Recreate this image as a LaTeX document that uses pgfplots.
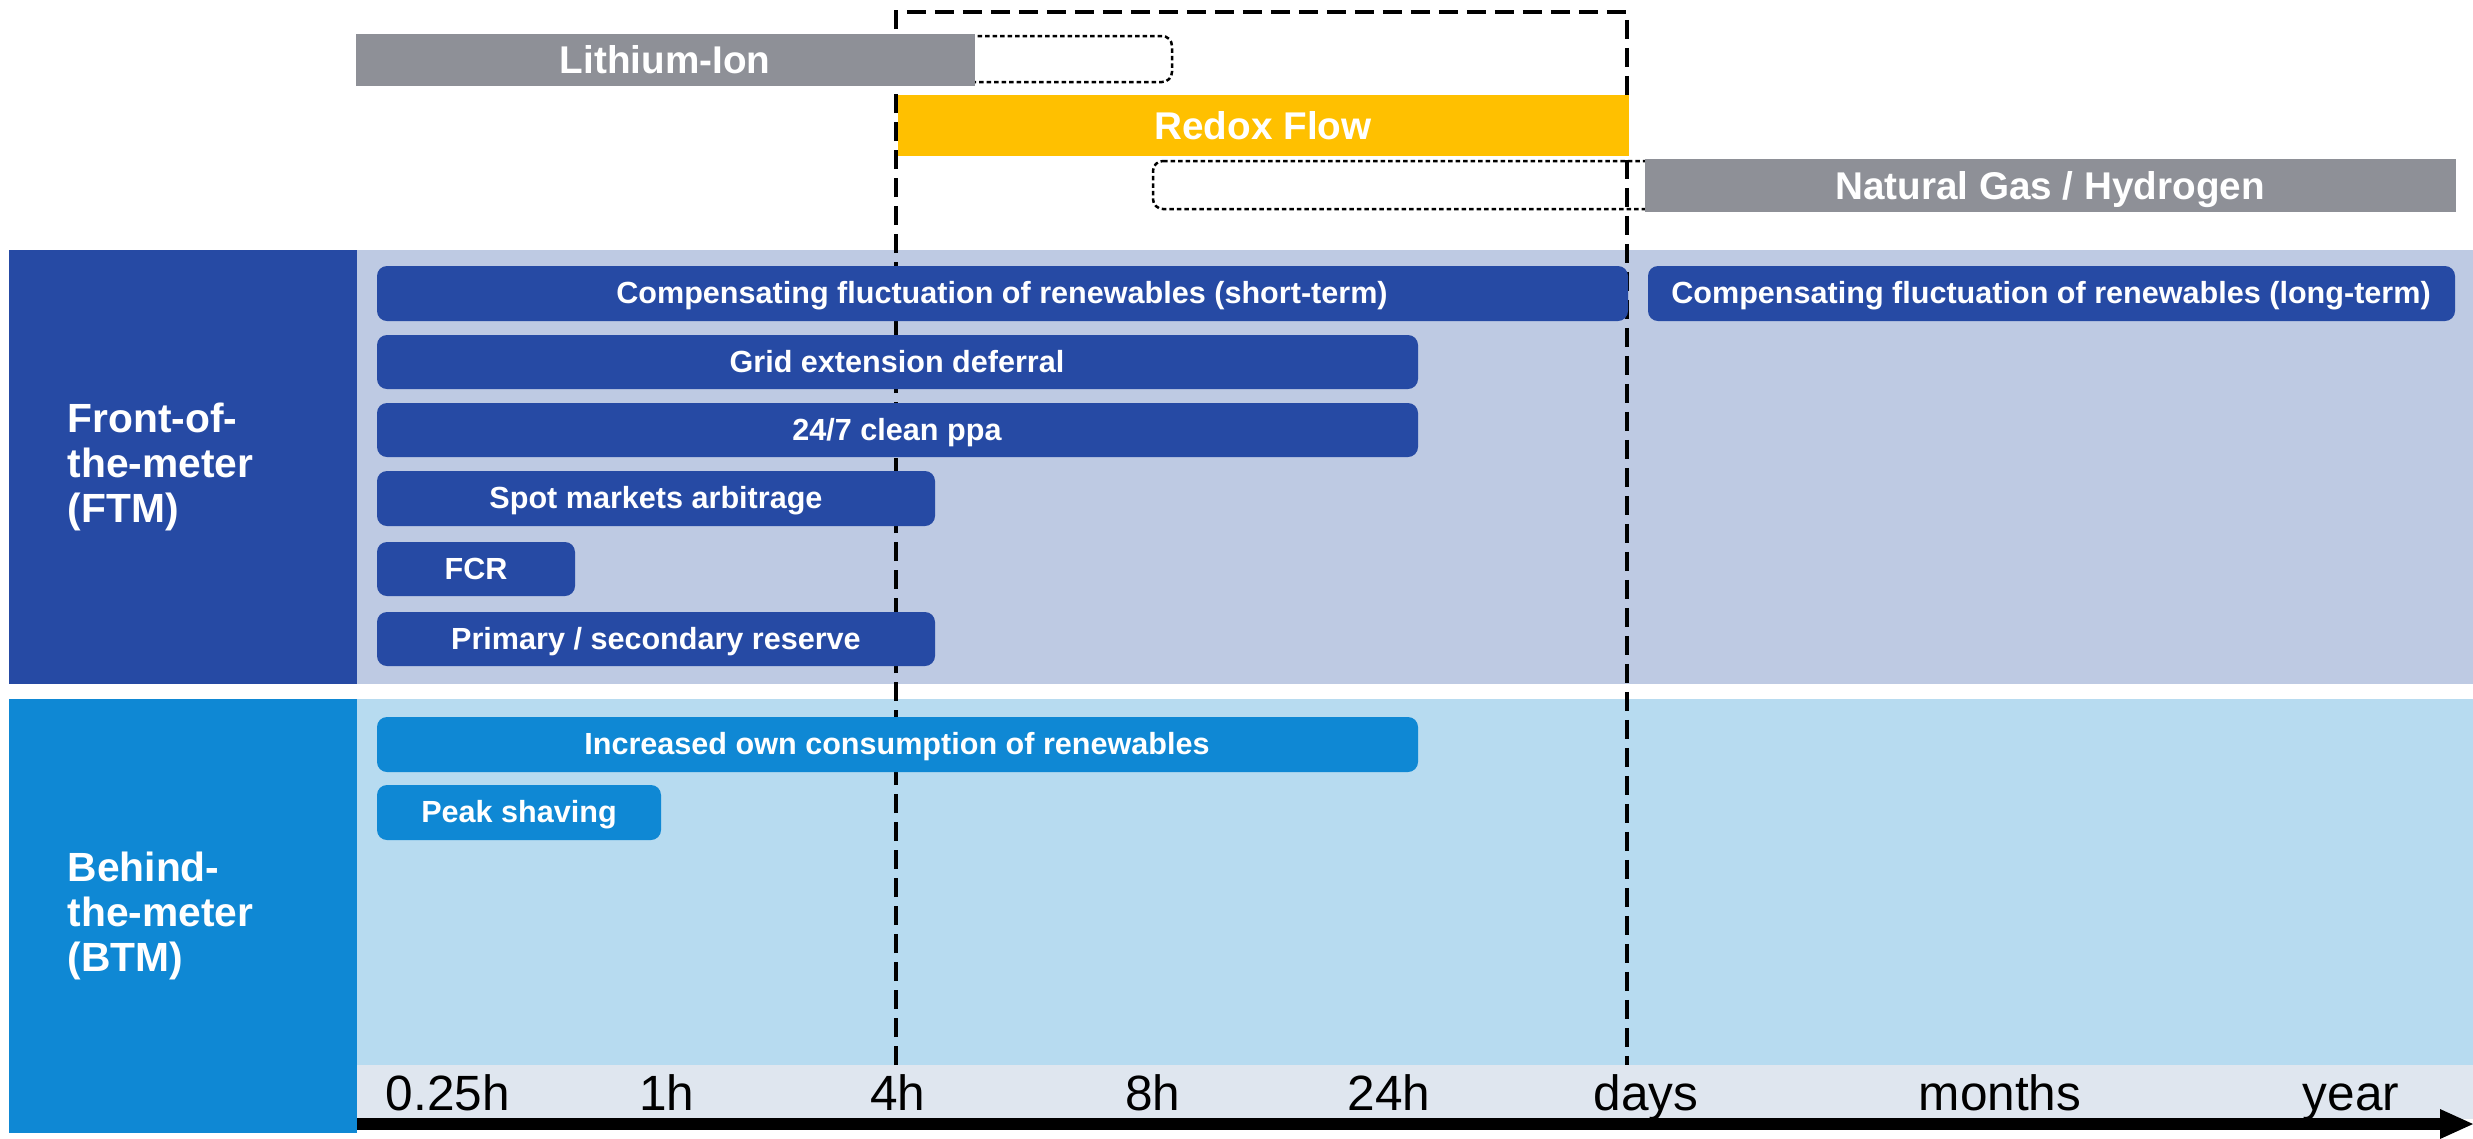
\documentclass[border=0pt]{standalone}
\usepackage{pgfplots}
\pgfplotsset{compat=1.18}
\usepackage{fontspec}
\setmainfont{Liberation Sans}
\usetikzlibrary{arrows.meta}

\definecolor{ftmdark}{HTML}{264AA4}
\definecolor{ftmlight}{HTML}{BECAE3}
\definecolor{btmdark}{HTML}{0F88D4}
\definecolor{btmlight}{HTML}{B7DBF0}
\definecolor{strip}{HTML}{DFE6EF}
\definecolor{techgray}{HTML}{8E9097}
\definecolor{redox}{HTML}{FFC000}

\begin{document}
\begin{tikzpicture}[
  lbl/.style={font=\bfseries\fontsize{8.7}{10}\selectfont, text=white, inner sep=0pt, text height=6.2pt, text depth=0pt},
  big/.style={font=\bfseries\fontsize{11}{13}\selectfont, text=white, inner sep=0pt, text height=7.9pt, text depth=0pt},
  cat/.style={font=\bfseries\fontsize{11.6}{12.9}\selectfont, text=white, inner sep=0pt, align=left, anchor=west},
  tck/.style={font=\fontsize{14.1}{16}\selectfont, inner sep=0pt, text height=10.1pt, text depth=0pt},
]
\begin{axis}[
  x=0.1mm, y=0.1mm,
  xmin=0, xmax=2473, ymin=0, ymax=1138,
  y dir=reverse, hide axis, clip=false,
  panel/.style={fill=#1, draw=none},
  bar/.style={fill=#1, draw=none, rounded corners=1mm},
  dotbox/.style={draw=black, line width=0.25mm, dash pattern=on 0.45mm off 0.3mm, rounded corners=1mm},
]
% page frame
\addplot[draw=none] coordinates {(0,0) (2473,1138)};
\coordinate (ll) at (0,1138);
\coordinate (ur) at (2473,0);

% panels
\addplot[panel=ftmdark]  coordinates {(9,250) (357,250) (357,684) (9,684)} -- cycle;
\addplot[panel=ftmlight] coordinates {(357,250) (2473,250) (2473,684) (357,684)} -- cycle;
\addplot[panel=btmdark]  coordinates {(9,699) (357,699) (357,1133) (9,1133)} -- cycle;
\addplot[panel=btmlight] coordinates {(357,699) (2473,699) (2473,1065) (357,1065)} -- cycle;
\addplot[panel=strip]    coordinates {(357,1065) (2473,1065) (2473,1119) (357,1119)} -- cycle;

% time arrow
\addplot[black, line width=1.25mm, -{Triangle[length=3.3mm, width=3.0mm, line width=0pt]}] coordinates {(357,1124) (2473,1124)};

% redox flow window
\addplot[black, line width=0.35mm, dash pattern=on 1.9mm off 0.9mm] coordinates {(896,1065) (896,12) (1627,12) (1627,1065)};

% technologies
\addplot[dotbox] coordinates {(930,36) (1172,36) (1172,82) (930,82)} -- cycle;
\addplot[panel=techgray] coordinates {(356,34) (975,34) (975,86) (356,86)} -- cycle;
\node[big] at (665,60) {Lithium-Ion};
\addplot[panel=redox] coordinates {(898,95) (1629,95) (1629,156) (898,156)} -- cycle;
\node[big] at (1263,126) {Redox Flow};
\addplot[dotbox] coordinates {(1153,161) (1700,161) (1700,209) (1153,209)} -- cycle;
\addplot[panel=techgray] coordinates {(1645,159) (2456,159) (2456,212) (1645,212)} -- cycle;
\node[big] at (2050,186) {Natural Gas / Hydrogen};

% front-of-the-meter applications
\addplot[bar=ftmdark] coordinates {(377,266) (1628,266) (1628,321) (377,321)} -- cycle;
\node[lbl] at (1002,293) {Compensating fluctuation of renewables (short-term)};
\addplot[bar=ftmdark] coordinates {(1648,266) (2455,266) (2455,321) (1648,321)} -- cycle;
\node[lbl] at (2051,293) {Compensating fluctuation of renewables (long-term)};
\addplot[bar=ftmdark] coordinates {(377,335) (1418,335) (1418,389) (377,389)} -- cycle;
\node[lbl] at (897,362) {Grid extension deferral};
\addplot[bar=ftmdark] coordinates {(377,403) (1418,403) (1418,457) (377,457)} -- cycle;
\node[lbl] at (897,430) {24/7 clean ppa};
\addplot[bar=ftmdark] coordinates {(377,471) (935,471) (935,526) (377,526)} -- cycle;
\node[lbl] at (656,498) {Spot markets arbitrage};
\addplot[bar=ftmdark] coordinates {(377,542) (575,542) (575,596) (377,596)} -- cycle;
\node[lbl] at (476,569) {FCR};
\addplot[bar=ftmdark] coordinates {(377,612) (935,612) (935,666) (377,666)} -- cycle;
\node[lbl] at (656,639) {Primary / secondary reserve};

% behind-the-meter applications
\addplot[bar=btmdark] coordinates {(377,717) (1418,717) (1418,772) (377,772)} -- cycle;
\node[lbl] at (897,744) {Increased own consumption of renewables};
\addplot[bar=btmdark] coordinates {(377,785) (661,785) (661,840) (377,840)} -- cycle;
\node[lbl] at (519,812) {Peak shaving};

% segment labels
\node[cat] at (67,467) {Front-of-\\the-meter\\(FTM)};
\node[cat] at (67,916) {Behind-\\the-meter\\(BTM)};

% time scale
\node[tck] at (448,1093) {0.25h};
\node[tck] at (667,1093) {1h};
\node[tck] at (898,1093) {4h};
\node[tck] at (1153,1093) {8h};
\node[tck] at (1389,1093) {24h};
\node[tck] at (1646,1093) {days};
\node[tck] at (2000,1093) {months};
\node[tck] at (2351,1093) {year};
\end{axis}
\pgfresetboundingbox
\path[use as bounding box] (ll) rectangle (ur);
\end{tikzpicture}
\end{document}
